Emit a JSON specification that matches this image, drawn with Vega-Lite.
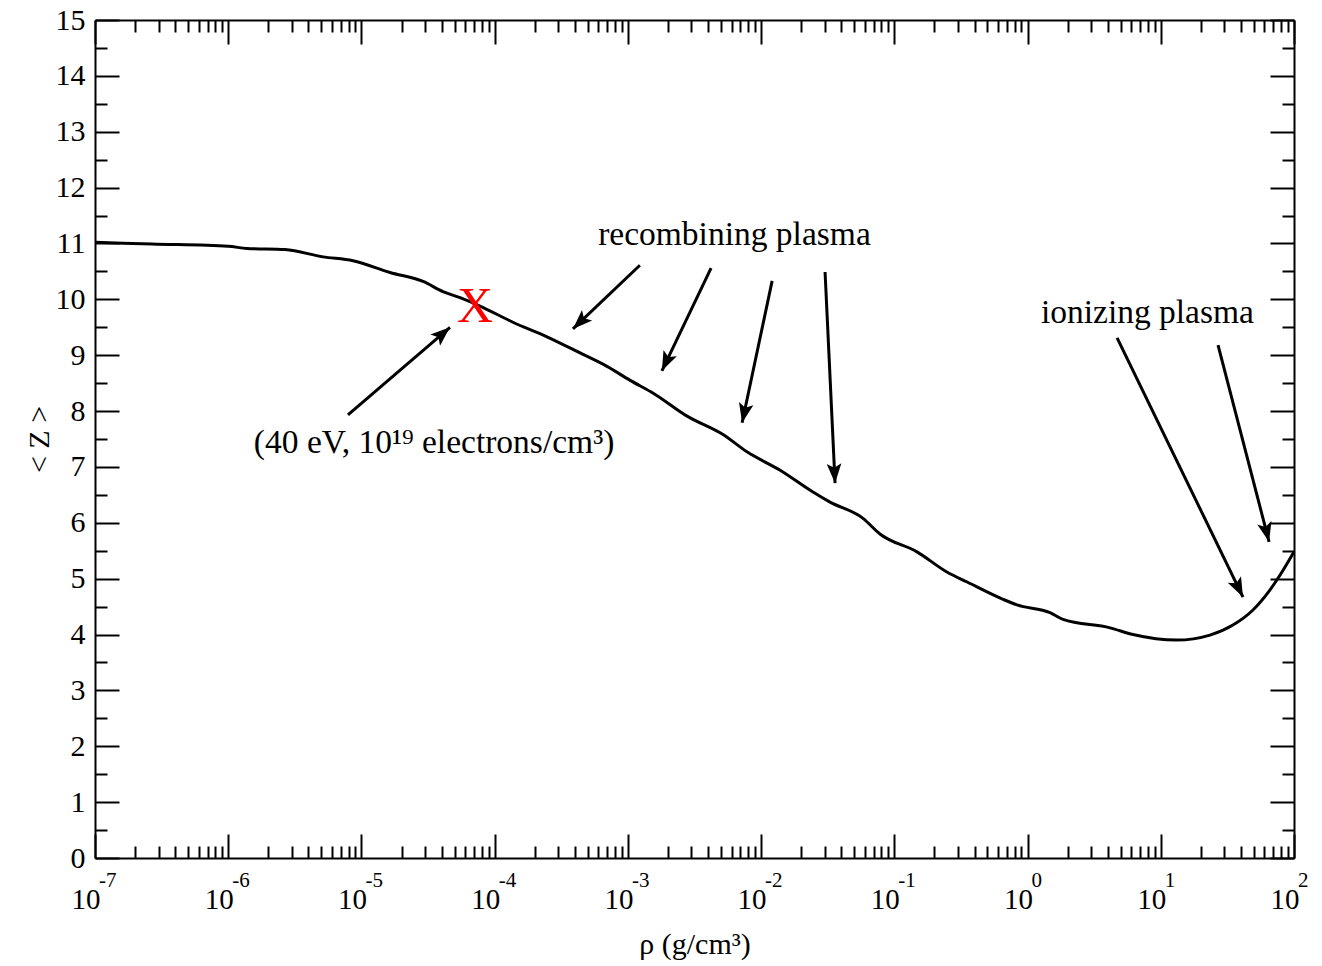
{
  "$schema": "https://vega.github.io/schema/vega-lite/v6.json",
  "width": 1199,
  "height": 838,
  "autosize": "none",
  "padding": {"left": 95, "top": 20, "right": 28, "bottom": 108},
  "background": "white",
  "config": {
    "view": {"stroke": null},
    "font": "Liberation Serif",
    "axis": {
      "labelFont": "Liberation Serif",
      "labelFontSize": 30,
      "labelColor": "black",
      "titleFont": "Liberation Serif",
      "titleFontSize": 30,
      "titleFontWeight": "normal",
      "titleColor": "black",
      "tickColor": "black",
      "tickWidth": 2,
      "domainColor": "black",
      "domainWidth": 2,
      "grid": false,
      "labelOverlap": false,
      "labelFlush": false,
      "labelBound": false
    }
  },
  "datasets": {
    "curve": [
      {"rho": 1e-7, "Z": 11.02},
      {"rho": 2.68e-7, "Z": 10.99},
      {"rho": 1.0e-6, "Z": 10.95},
      {"rho": 1.38e-6, "Z": 10.91},
      {"rho": 2.67e-6, "Z": 10.89},
      {"rho": 5.14e-6, "Z": 10.76},
      {"rho": 8.65e-6, "Z": 10.69},
      {"rho": 1.64e-5, "Z": 10.48},
      {"rho": 2.90e-5, "Z": 10.32},
      {"rho": 4.09e-5, "Z": 10.14},
      {"rho": 5.50e-5, "Z": 10.03},
      {"rho": 7.76e-5, "Z": 9.88},
      {"rho": 1.37e-4, "Z": 9.59},
      {"rho": 2.47e-4, "Z": 9.33},
      {"rho": 4.38e-4, "Z": 9.04},
      {"rho": 6.97e-4, "Z": 8.80},
      {"rho": 1.04e-3, "Z": 8.55},
      {"rho": 1.55e-3, "Z": 8.32},
      {"rho": 2.78e-3, "Z": 7.91},
      {"rho": 5.18e-3, "Z": 7.58},
      {"rho": 7.83e-3, "Z": 7.27},
      {"rho": 1.39e-2, "Z": 6.94},
      {"rho": 2.45e-2, "Z": 6.55},
      {"rho": 3.29e-2, "Z": 6.37},
      {"rho": 5.82e-2, "Z": 6.08},
      {"rho": 7.80e-2, "Z": 5.80},
      {"rho": 0.148, "Z": 5.48},
      {"rho": 0.248, "Z": 5.12},
      {"rho": 0.352, "Z": 4.94},
      {"rho": 0.655, "Z": 4.63},
      {"rho": 0.834, "Z": 4.53},
      {"rho": 1.476, "Z": 4.39},
      {"rho": 1.845, "Z": 4.27},
      {"rho": 4.16, "Z": 4.12},
      {"rho": 6.19, "Z": 4.00},
      {"rho": 13.2, "Z": 3.90},
      {"rho": 23.4, "Z": 3.99},
      {"rho": 34.8, "Z": 4.17},
      {"rho": 49.2, "Z": 4.44},
      {"rho": 66.1, "Z": 4.80},
      {"rho": 82.8, "Z": 5.15},
      {"rho": 100, "Z": 5.48}
    ],
    "arrows": [
      {"x1": 7.92e-6, "y1": 7.93, "x2": 4.62e-5, "y2": 9.50, "angle": 49},
      {"x1": 1.23e-3, "y1": 10.61, "x2": 3.87e-4, "y2": 9.47, "angle": 226},
      {"x1": 4.21e-3, "y1": 10.56, "x2": 1.80e-3, "y2": 8.72, "angle": 205},
      {"x1": 1.21e-2, "y1": 10.33, "x2": 7.20e-3, "y2": 7.79, "angle": 192},
      {"x1": 3.02e-2, "y1": 10.49, "x2": 3.59e-2, "y2": 6.71, "angle": 177},
      {"x1": 4.70, "y1": 9.31, "x2": 41.4, "y2": 4.67, "angle": 154},
      {"x1": 26.9, "y1": 9.18, "x2": 65.0, "y2": 5.66, "angle": 166}
    ],
    "notes": [
      {"rho": 6.31e-3, "Z": 10.97, "text": "recombining plasma"},
      {"rho": 7.94, "Z": 9.58, "text": "ionizing plasma"},
      {"rho": 3.51e-5, "Z": 7.25, "text": "(40 eV, 10¹⁹ electrons/cm³)"}
    ],
    "marker": [
      {"rho": 7.11e-5, "Z": 9.86, "text": "X"}
    ],
    "exponents": [
      {"rho": 1e-7, "e": "-7"},
      {"rho": 1e-6, "e": "-6"},
      {"rho": 1e-5, "e": "-5"},
      {"rho": 1e-4, "e": "-4"},
      {"rho": 1e-3, "e": "-3"},
      {"rho": 1e-2, "e": "-2"},
      {"rho": 1e-1, "e": "-1"},
      {"rho": 1, "e": "0"},
      {"rho": 10, "e": "1"},
      {"rho": 100, "e": "2"}
    ]
  },
  "resolve": {"axis": {"x": "independent", "y": "independent"}},
  "layer": [
    {
      "data": {"name": "curve"},
      "mark": {"type": "line", "color": "black", "strokeWidth": 3, "interpolate": "monotone"},
      "encoding": {
        "x": {
          "field": "rho", "type": "quantitative",
          "scale": {"type": "log", "domain": [1e-7, 100], "nice": false},
          "axis": {
            "orient": "bottom",
            "values": [1e-7,2e-7,3e-7,4e-7,5e-7,6e-7,7e-7,8e-7,9e-7,1e-6,2e-6,3e-6,4e-6,5e-6,6e-6,7e-6,8e-6,9e-6,1e-5,2e-5,3e-5,4e-5,5e-5,6e-5,7e-5,8e-5,9e-5,1e-4,2e-4,3e-4,4e-4,5e-4,6e-4,7e-4,8e-4,9e-4,1e-3,2e-3,3e-3,4e-3,5e-3,6e-3,7e-3,8e-3,9e-3,1e-2,2e-2,3e-2,4e-2,5e-2,6e-2,7e-2,8e-2,9e-2,0.1,0.2,0.3,0.4,0.5,0.6,0.7,0.8,0.9,1,2,3,4,5,6,7,8,9,10,20,30,40,50,60,70,80,90,100],
            "labelExpr": "abs(log(datum.value)/LN10 - round(log(datum.value)/LN10)) < 0.001 ? '10' : ''",
            "tickSize": {"condition": {"test": "abs(log(datum.value)/LN10 - round(log(datum.value)/LN10)) < 0.001", "value": -24}, "value": -12},
            "labelAlign": "right",
            "labelOffset": 5,
            "labelFontSize": 29,
            "labelBaseline": "alphabetic",
            "labelPadding": 74,
            "title": "ρ (g/cm³)",
            "titlePadding": 3
          }
        },
        "y": {
          "field": "Z", "type": "quantitative",
          "scale": {"domain": [0, 15], "nice": false},
          "axis": {
            "orient": "left",
            "values": [0,0.5,1,1.5,2,2.5,3,3.5,4,4.5,5,5.5,6,6.5,7,7.5,8,8.5,9,9.5,10,10.5,11,11.5,12,12.5,13,13.5,14,14.5,15],
            "labelExpr": "datum.value % 1 === 0 ? format(datum.value, 'd') : ''",
            "tickSize": {"condition": {"test": "datum.value % 1 === 0", "value": -24}, "value": -12},
            "labelPadding": 34,
            "title": "< Z >",
            "titlePadding": 1
          }
        }
      }
    },
    {
      "data": {"name": "curve"},
      "mark": {"type": "line", "opacity": 0},
      "encoding": {
        "x": {
          "field": "rho", "type": "quantitative",
          "scale": {"type": "log", "domain": [1e-7, 100], "nice": false},
          "axis": {
            "orient": "top",
            "values": [1e-7,2e-7,3e-7,4e-7,5e-7,6e-7,7e-7,8e-7,9e-7,1e-6,2e-6,3e-6,4e-6,5e-6,6e-6,7e-6,8e-6,9e-6,1e-5,2e-5,3e-5,4e-5,5e-5,6e-5,7e-5,8e-5,9e-5,1e-4,2e-4,3e-4,4e-4,5e-4,6e-4,7e-4,8e-4,9e-4,1e-3,2e-3,3e-3,4e-3,5e-3,6e-3,7e-3,8e-3,9e-3,1e-2,2e-2,3e-2,4e-2,5e-2,6e-2,7e-2,8e-2,9e-2,0.1,0.2,0.3,0.4,0.5,0.6,0.7,0.8,0.9,1,2,3,4,5,6,7,8,9,10,20,30,40,50,60,70,80,90,100],
            "labels": false,
            "tickSize": {"condition": {"test": "abs(log(datum.value)/LN10 - round(log(datum.value)/LN10)) < 0.001", "value": -24}, "value": -12},
            "title": null
          }
        },
        "y": {
          "field": "Z", "type": "quantitative",
          "scale": {"domain": [0, 15], "nice": false},
          "axis": {
            "orient": "right",
            "values": [0,0.5,1,1.5,2,2.5,3,3.5,4,4.5,5,5.5,6,6.5,7,7.5,8,8.5,9,9.5,10,10.5,11,11.5,12,12.5,13,13.5,14,14.5,15],
            "labels": false,
            "tickSize": {"condition": {"test": "datum.value % 1 === 0", "value": -24}, "value": -12},
            "title": null
          }
        }
      }
    },
    {
      "data": {"name": "arrows"},
      "mark": {"type": "rule", "color": "black", "strokeWidth": 3},
      "encoding": {
        "x": {"field": "x1", "type": "quantitative", "axis": null},
        "y": {"field": "y1", "type": "quantitative", "axis": null},
        "x2": {"field": "x2"},
        "y2": {"field": "y2"}
      }
    },
    {
      "data": {"name": "arrows"},
      "mark": {"type": "point", "shape": "M0,0 L-0.6,1.6 L0,1.25 L0.6,1.6 Z", "filled": true, "color": "black", "opacity": 1, "size": 600},
      "encoding": {
        "x": {"field": "x2", "type": "quantitative", "axis": null},
        "y": {"field": "y2", "type": "quantitative", "axis": null},
        "angle": {"field": "angle", "type": "quantitative", "scale": null}
      }
    },
    {
      "data": {"name": "notes"},
      "mark": {"type": "text", "font": "Liberation Serif", "fontSize": 33.5, "color": "black", "align": "center", "baseline": "alphabetic"},
      "encoding": {
        "x": {"field": "rho", "type": "quantitative", "axis": null},
        "y": {"field": "Z", "type": "quantitative", "axis": null},
        "text": {"field": "text"}
      }
    },
    {
      "data": {"name": "marker"},
      "mark": {"type": "text", "font": "Liberation Serif", "fontSize": 50, "color": "#ff0000", "align": "center", "baseline": "middle"},
      "encoding": {
        "x": {"field": "rho", "type": "quantitative", "axis": null},
        "y": {"field": "Z", "type": "quantitative", "axis": null},
        "text": {"field": "text"}
      }
    },
    {
      "data": {"name": "exponents"},
      "mark": {"type": "text", "font": "Liberation Serif", "fontSize": 21, "color": "black", "align": "left", "baseline": "alphabetic", "dx": 4, "dy": 29},
      "encoding": {
        "x": {"field": "rho", "type": "quantitative", "axis": null},
        "y": {"datum": 0, "type": "quantitative", "axis": null},
        "text": {"field": "e"}
      }
    }
  ]
}
